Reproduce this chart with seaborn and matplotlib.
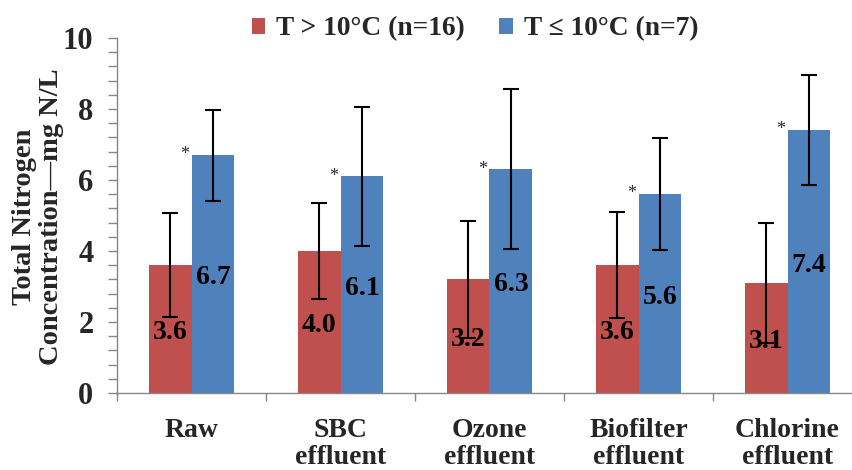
import matplotlib
matplotlib.use("Agg")
import matplotlib.pyplot as plt
from matplotlib.ticker import MultipleLocator, FixedLocator, NullFormatter
from matplotlib.patches import Patch
import seaborn as sns
import pandas as pd

# Total nitrogen by treatment stage, split by water temperature
stages = ["Raw", "SBC\neffluent", "Ozone\neffluent", "Biofilter\neffluent", "Chlorine\neffluent"]
groups = ["T > 10°C (n=16)", "T ≤ 10°C (n=7)"]
warm_mean = [3.6, 4.0, 3.2, 3.6, 3.1]
cold_mean = [6.7, 6.1, 6.3, 5.6, 7.4]
warm_sd = [1.47, 1.35, 1.65, 1.5, 1.7]
cold_sd = [1.28, 1.95, 2.25, 1.57, 1.55]
y_ticks = [0, 2, 4, 6, 8, 10]

RED = "#C0504D"
BLUE = "#4F81BD"
GREY = "#868686"

sns.set_style("white")
plt.rcParams["font.family"] = ["Liberation Serif", "DejaVu Serif"]
plt.rcParams["font.weight"] = "bold"

df = pd.DataFrame({
    "stage": stages * 2,
    "group": [groups[0]] * len(stages) + [groups[1]] * len(stages),
    "tn": warm_mean + cold_mean,
})

fig = plt.figure(figsize=(8.52, 4.70), dpi=100)
ax = fig.add_axes([117 / 852, 77 / 470, 745 / 852, 355 / 470])

sns.barplot(data=df, x="stage", y="tn", hue="group", order=stages, hue_order=groups,
            palette=[RED, BLUE], width=0.575, saturation=1, errorbar=None,
            linewidth=0, ax=ax, legend=False)

for cont, sds in zip(ax.containers, [warm_sd, cold_sd]):
    xs = [p.get_x() + p.get_width() / 2 for p in cont]
    hs = [p.get_height() for p in cont]
    ax.errorbar(xs, hs, yerr=sds, fmt="none", ecolor="black", elinewidth=1.5,
                capsize=6, capthick=1.5, zorder=5)
    for x, h in zip(xs, hs):
        ax.annotate(f"{h:.1f}", xy=(x, h / 2), xytext=(0, -2.5), textcoords="offset points",
                    ha="center", va="center", fontsize=20, fontweight="bold",
                    color="black", zorder=6)

# significance markers beside the cold-water bars
for p in ax.containers[1]:
    ax.annotate("*", xy=(p.get_x(), p.get_height()), xytext=(-5, -3),
                textcoords="offset points", ha="center", va="baseline",
                fontsize=13, fontweight="normal")

ax.set_ylim(0, 10)
ax.set_xlim(-0.5, len(stages) - 0.5)
ax.yaxis.set_major_locator(FixedLocator(y_ticks))
ax.yaxis.set_minor_locator(MultipleLocator(0.4))
ax.tick_params(axis="y", which="both", direction="out", length=6.5, width=1,
               color=GREY, left=True, labelsize=22, pad=10.5)
ax.xaxis.set_minor_locator(FixedLocator([i - 0.5 for i in range(len(stages) + 1)]))
ax.xaxis.set_minor_formatter(NullFormatter())
ax.tick_params(axis="x", which="major", length=0, labelsize=20, pad=18)
ax.tick_params(axis="x", which="minor", direction="out", length=6, width=1,
               color=GREY, bottom=True)
for lab in ax.get_xticklabels() + ax.get_yticklabels():
    lab.set_fontweight("bold")
for lab in ax.get_xticklabels():
    lab.set_linespacing(1.1)

for s in ["top", "right"]:
    ax.spines[s].set_visible(False)
for s in ["left", "bottom"]:
    ax.spines[s].set_color(GREY)
    ax.spines[s].set_linewidth(1)

ax.set_xlabel("")
ax.set_ylabel("")
fig.text(38 / 852, 1 - 217 / 470, "Total Nitrogen\nConcentration—mg N/L", rotation=90,
         ha="center", va="center", multialignment="center", fontsize=20.5,
         fontweight="bold", linespacing=1.1)

handles = [Patch(facecolor=RED, edgecolor="none"), Patch(facecolor=BLUE, edgecolor="none")]
fig.legend(handles, groups, loc="center", bbox_to_anchor=(475 / 852, 1 - 29 / 470),
           ncol=2, frameon=False, handlelength=0.5, handleheight=0.5,
           handletextpad=0.4, columnspacing=1.25, prop={"weight": "bold", "size": 19.7})

fig.savefig("out.png", dpi=100)
